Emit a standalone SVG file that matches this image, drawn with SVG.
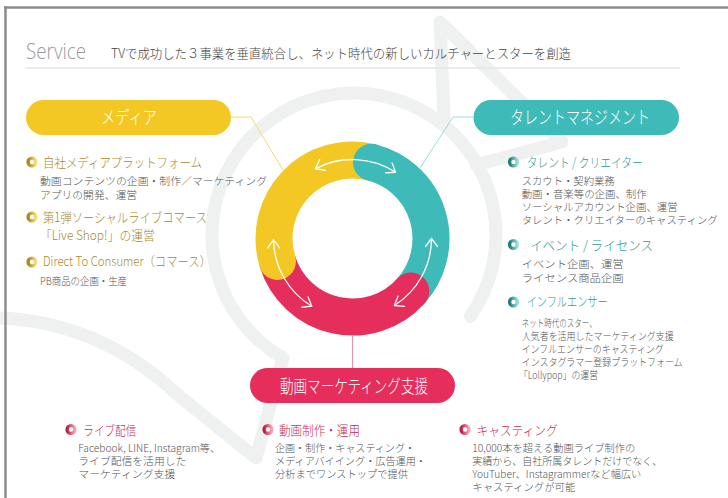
<svg xmlns="http://www.w3.org/2000/svg" width="728" height="498" viewBox="0 0 728 498">
<style>
.jp{font-family:"Noto Sans CJK JP","Noto Sans",sans-serif;font-weight:300;}
.ttl{font-size:13px;fill:#444;}
.pill{font-size:18px;fill:#fff;}
.h{font-size:13px;}
.hy{fill:#a8892c;}
.ht{fill:#2f9995;}
.hp{fill:#c52953;}
.d{font-size:10.5px;fill:#555;}
.bg{fill:none;stroke:#eff0f0;stroke-width:13;stroke-linecap:round;stroke-linejoin:round;}
.ring{fill:none;stroke-width:37;stroke-linecap:butt;}
.arw{fill:none;stroke:#fff;stroke-width:1.3;marker-start:url(#chev);marker-end:url(#chev);}
.ic{fill:none;stroke-width:3.4;}
.con{fill:none;stroke-width:1;}
</style>
<defs>
<marker id="chev" markerUnits="userSpaceOnUse" viewBox="-10 -10 20 20" markerWidth="20" markerHeight="20" refX="0" refY="0" orient="auto-start-reverse" overflow="visible">
<path d="M -8 -6 L 0 0 L -8 6" fill="none" stroke="#fff" stroke-width="1.3" stroke-linecap="round" stroke-linejoin="round"/>
</marker>
<linearGradient id="gY" x1="0" y1="0" x2="1" y2="0"><stop offset="0" stop-color="#a9841a"/><stop offset="1" stop-color="#f8df84"/></linearGradient>
<linearGradient id="gT" x1="0" y1="0" x2="1" y2="0"><stop offset="0" stop-color="#1b7b78"/><stop offset="1" stop-color="#9edcd9"/></linearGradient>
<linearGradient id="gP" x1="0" y1="0" x2="1" y2="0"><stop offset="0" stop-color="#b81f47"/><stop offset="1" stop-color="#f6a5b8"/></linearGradient>
</defs>
<rect width="728" height="498" fill="#fff"/>
<g id="background">
<path class="bg" d="M 283 358 A 142 142 0 1 1 470.3 316.4"/>
<path class="bg" d="M 444 118 L 440 22 L 562 142 L 476 165"/>
<path class="bg" d="M 0 318 Q 100 322 178 395 L 256 458 L 283 358"/>
</g>
<g id="frame">
<line x1="4" y1="7.5" x2="728" y2="7.5" stroke="#8c8c8c" stroke-width="2.5"/>
<line x1="5.5" y1="6.5" x2="5.5" y2="498" stroke="#8c8c8c" stroke-width="2.5"/>
<line x1="26" y1="68" x2="680" y2="68" stroke="#e6e6e6" stroke-width="1.5"/>
</g>
<g id="title">
<text x="26" y="59" font-family="'Open Sans','Liberation Sans',sans-serif" font-weight="300" font-size="22" fill="#9a9a9a" textLength="60" lengthAdjust="spacingAndGlyphs">Service</text>
<text class="jp ttl" x="111" y="58" textLength="460" lengthAdjust="spacingAndGlyphs">TVで成功した３事業を垂直統合し、ネット時代の新しいカルチャーとスターを創造</text>
</g>
<g id="connectors">
<path class="con" stroke="#f5d77a" d="M 231 117 L 251 117 L 283 170"/>
<path class="con" stroke="#9fdad8" d="M 473 117 L 453 117 L 420 168"/>
<path class="con" stroke="#ee92aa" d="M 352.5 336 L 352.5 368"/>
</g>
<g id="cycle">
<path class="ring" stroke="#f4c824" d="M 277.43 261.45 A 78.5 78.5 0 0 1 371.49 162.33"/>
<path class="ring" stroke="#3ebab8" d="M 371.49 162.33 A 78.5 78.5 0 0 1 410.84 291.03"/>
<path class="ring" stroke="#e52e5b" d="M 410.84 291.03 A 78.5 78.5 0 0 1 277.43 261.45"/>
<circle cx="277.43" cy="261.45" r="18.5" fill="#f4c824"/>
<circle cx="371.49" cy="162.33" r="18.5" fill="#3ebab8"/>
<circle cx="410.84" cy="291.03" r="18.5" fill="#e52e5b"/>
<path class="arw" d="M 315.41 168.75 A 79 79 0 0 1 395.52 172.24"/>
<path class="arw" d="M 431.5 238.5 A 79 79 0 0 1 394.36 305.49"/>
<path class="arw" d="M 311.81 306.22 A 79 79 0 0 1 273.51 239.88"/>
</g>
<g id="media">
<rect x="26" y="100" width="205" height="35" rx="17.5" fill="#f4c824"/>
<text class="jp pill" x="101" y="124" textLength="56" lengthAdjust="spacingAndGlyphs">メディア</text>
<circle class="ic" cx="32" cy="162" r="3.9" stroke="url(#gY)"/>
<text class="jp h hy" x="43" y="167" textLength="159" lengthAdjust="spacingAndGlyphs">自社メディアプラットフォーム</text>
<text class="jp d" x="40" y="185" textLength="227" lengthAdjust="spacingAndGlyphs">動画コンテンツの企画・制作／マーケティング</text>
<text class="jp d" x="40" y="199" textLength="97" lengthAdjust="spacingAndGlyphs">アプリの開発、運営</text>
<circle class="ic" cx="32" cy="217" r="3.9" stroke="url(#gY)"/>
<text class="jp h hy" x="43" y="222" textLength="164" lengthAdjust="spacingAndGlyphs">第1弾ソーシャルライブコマース</text>
<text class="jp h hy" x="40" y="239.5" textLength="115" lengthAdjust="spacingAndGlyphs">「Live Shop!」の運営</text>
<circle class="ic" cx="32" cy="262" r="3.9" stroke="url(#gY)"/>
<text class="jp h hy" x="43" y="266" textLength="168" lengthAdjust="spacingAndGlyphs">Direct To Consumer（コマース）</text>
<text class="jp d" x="40" y="284.5" textLength="87" lengthAdjust="spacingAndGlyphs">PB商品の企画・生産</text>
</g>
<g id="talent">
<rect x="473.5" y="100" width="205.5" height="35" rx="17.5" fill="#3ebab8"/>
<text class="jp pill" x="510" y="124" textLength="140" lengthAdjust="spacingAndGlyphs">タレントマネジメント</text>
<circle class="ic" cx="513.5" cy="162" r="3.9" stroke="url(#gT)"/>
<text class="jp h ht" x="526.7" y="167" textLength="116" lengthAdjust="spacingAndGlyphs">タレント / クリエイター</text>
<text class="jp d" x="521.7" y="184.5" textLength="93" lengthAdjust="spacingAndGlyphs">スカウト・契約業務</text>
<text class="jp d" x="521.7" y="197.5" textLength="125" lengthAdjust="spacingAndGlyphs">動画・音楽等の企画、制作</text>
<text class="jp d" x="521.7" y="211" textLength="156" lengthAdjust="spacingAndGlyphs">ソーシャルアカウント企画、運営</text>
<text class="jp d" x="521.7" y="224" textLength="196" lengthAdjust="spacingAndGlyphs">タレント・クリエイターのキャスティング</text>
<circle class="ic" cx="513.5" cy="244.5" r="3.9" stroke="url(#gT)"/>
<text class="jp h ht" x="530" y="249.5" textLength="123" lengthAdjust="spacingAndGlyphs">イベント / ライセンス</text>
<text class="jp d" x="521.7" y="267.5" textLength="102" lengthAdjust="spacingAndGlyphs">イベント企画、運営</text>
<text class="jp d" x="521.7" y="282" textLength="102" lengthAdjust="spacingAndGlyphs">ライセンス商品企画</text>
<circle class="ic" cx="513.5" cy="302" r="3.9" stroke="url(#gT)"/>
<text class="jp h ht" x="526.7" y="306" textLength="81" lengthAdjust="spacingAndGlyphs">インフルエンサー</text>
<text class="jp d" x="521.7" y="326.5" textLength="75" lengthAdjust="spacingAndGlyphs">ネット時代のスター、</text>
<text class="jp d" x="521.7" y="339.5" textLength="152" lengthAdjust="spacingAndGlyphs">人気者を活用したマーケティング支援</text>
<text class="jp d" x="521.7" y="352.5" textLength="142" lengthAdjust="spacingAndGlyphs">インフルエンサーのキャスティング</text>
<text class="jp d" x="521.7" y="365.5" textLength="161" lengthAdjust="spacingAndGlyphs">インスタグラマー登録プラットフォーム</text>
<text class="jp d" x="519" y="378.5" textLength="79" lengthAdjust="spacingAndGlyphs">「Lollypop」の運営</text>
</g>
<g id="video-marketing">
<rect x="250" y="368" width="205" height="35" rx="17.5" fill="#e52e5b"/>
<text class="jp pill" x="280" y="392.5" textLength="148" lengthAdjust="spacingAndGlyphs">動画マーケティング支援</text>
<circle class="ic" cx="71" cy="429.5" r="3.9" stroke="url(#gP)"/>
<text class="jp h hp" x="83.3" y="434.5" textLength="53" lengthAdjust="spacingAndGlyphs">ライブ配信</text>
<text class="jp d" x="78.3" y="452" textLength="142" lengthAdjust="spacingAndGlyphs">Facebook, LINE, Instagram等、</text>
<text class="jp d" x="78.3" y="465" textLength="108" lengthAdjust="spacingAndGlyphs">ライブ配信を活用した</text>
<text class="jp d" x="78.3" y="478" textLength="97" lengthAdjust="spacingAndGlyphs">マーケティング支援</text>
<circle class="ic" cx="268" cy="429.5" r="3.9" stroke="url(#gP)"/>
<text class="jp h hp" x="279" y="434.5" textLength="81" lengthAdjust="spacingAndGlyphs">動画制作・運用</text>
<text class="jp d" x="275" y="452" textLength="140" lengthAdjust="spacingAndGlyphs">企画・制作・キャスティング・</text>
<text class="jp d" x="275" y="465" textLength="151" lengthAdjust="spacingAndGlyphs">メディアバイイング・広告運用・</text>
<text class="jp d" x="275" y="478" textLength="133" lengthAdjust="spacingAndGlyphs">分析までワンストップで提供</text>
<circle class="ic" cx="465" cy="429.5" r="3.9" stroke="url(#gP)"/>
<text class="jp h hp" x="476.7" y="434.5" textLength="81" lengthAdjust="spacingAndGlyphs">キャスティング</text>
<text class="jp d" x="472.3" y="452" textLength="163" lengthAdjust="spacingAndGlyphs">10,000本を超える動画ライブ制作の</text>
<text class="jp d" x="472.3" y="465" textLength="190" lengthAdjust="spacingAndGlyphs">実績から、自社所属タレントだけでなく、</text>
<text class="jp d" x="472.3" y="478" textLength="169" lengthAdjust="spacingAndGlyphs">YouTuber、Instagrammerなど幅広い</text>
<text class="jp d" x="472.3" y="491" textLength="103" lengthAdjust="spacingAndGlyphs">キャスティングが可能</text>
</g>
</svg>
